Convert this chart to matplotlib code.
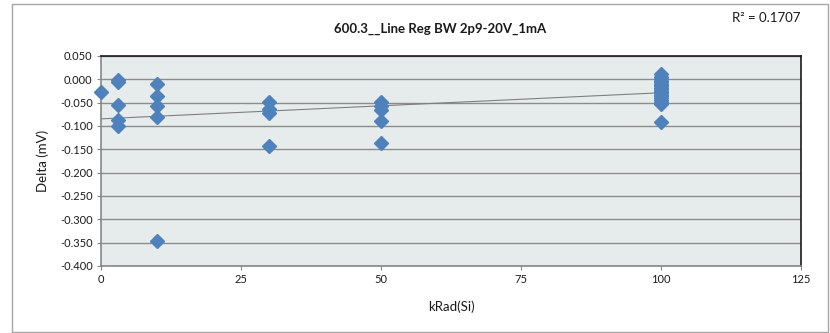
import numpy as np
import matplotlib
matplotlib.use("Agg")
import matplotlib.pyplot as plt
from matplotlib.patches import Rectangle

plt.rcParams['font.family'] = ['Lato', 'DejaVu Sans']

# Data (kRad(Si) dose, Delta in mV)
krad = [0,
        3, 3, 3, 3, 3,
        10, 10, 10, 10, 10,
        30, 30, 30, 30,
        50, 50, 50, 50, 50,
        100, 100, 100, 100, 100, 100, 100, 100, 100, 100,
        100, 100, 100, 100, 100, 100, 100, 100, 100, 100]
delta = [-0.028,
         -0.002, -0.006, -0.055, -0.088, -0.100,
         -0.011, -0.035, -0.057, -0.080, -0.347,
         -0.049, -0.063, -0.072, -0.142,
         -0.049, -0.058, -0.065, -0.089, -0.137,
         0.012, 0.005, 0.000, -0.003, -0.006, -0.009, -0.012, -0.015, -0.018, -0.021,
         -0.024, -0.027, -0.030, -0.033, -0.036, -0.040, -0.044, -0.048, -0.052, -0.092]

title = "600.3__Line Reg BW 2p9-20V_1mA"
r2_label = "R\u00b2 = 0.1707"
xticks = [0, 25, 50, 75, 100, 125]
yticks = [0.05, 0.0, -0.05, -0.1, -0.15, -0.2, -0.25, -0.3, -0.35, -0.4]

W, H = 830, 333
fig = plt.figure(figsize=(W / 100, H / 100), dpi=100)
fig.patch.set_facecolor('white')

# outer chart frame
fig.add_artist(Rectangle((12 / W, 1 - 332 / H), (828 - 12) / W, (332 - 4) / H,
                         transform=fig.transFigure, fill=False,
                         edgecolor='#A6A6A6', linewidth=1.0))

ax = fig.add_axes([101 / W, 1 - 266 / H, (801 - 101) / W, (266 - 56) / H])
ax.set_facecolor('#E6ECEC')

ax.set_xlim(0, 125)
ax.set_ylim(-0.4, 0.05)
ax.set_xticks(xticks)
ax.set_xticklabels([str(t) for t in xticks])
ax.set_yticks(yticks)
ax.set_yticklabels([f"{t:.3f}" for t in yticks])

ax.yaxis.grid(True, color='#8C8C8C', linewidth=1.0)
ax.set_axisbelow(True)

for side in ['left', 'bottom']:
    ax.spines[side].set_color('#878787')
    ax.spines[side].set_linewidth(1.2)
for side in ['top', 'right']:
    ax.spines[side].set_color('#1A1A1A')
    ax.spines[side].set_linewidth(1.2)

ax.tick_params(axis='both', direction='out', length=3, width=0.8, color='#878787',
               labelsize=8, labelcolor='#1A1A1A', pad=3)

# trend line (linear fit)
x = np.array(krad, dtype=float)
y = np.array(delta, dtype=float)
m, b = np.polyfit(x, y, 1)
xs = np.array([x.min(), x.max()])
ax.plot(xs, m * xs + b, color='#7F7F7F', linewidth=0.8, zorder=2)

ax.plot(krad, delta, linestyle='none', marker='D', markersize=7.5,
        color='#4F81BD', markeredgecolor='#4F81BD', zorder=3, clip_on=False)

ax.set_xlabel('kRad(Si)', fontsize=9.5, color='#1A1A1A', labelpad=11)
ax.set_ylabel('Delta (mV)', fontsize=9.5, color='#1A1A1A', labelpad=8)

fig.text(440 / W, 1 - 29 / H, title, ha='center', va='center',
         fontsize=9.5, fontweight='bold', color='#1A1A1A')
fig.text(800 / W, 1 - 18 / H, r2_label, ha='right', va='center',
         fontsize=9.5, color='#1A1A1A')

fig.savefig('out.png', dpi=100)
